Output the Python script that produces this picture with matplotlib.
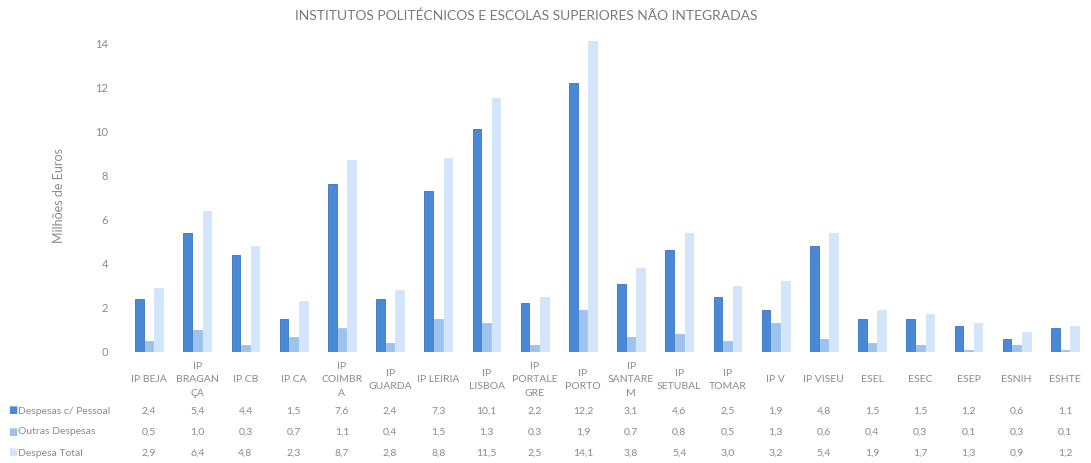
import numpy as np
import matplotlib.pyplot as plt
from matplotlib.transforms import blended_transform_factory

categorias = ["IP BEJA", "IP\nBRAGAN\nÇA", "IP CB", "IP CA", "IP\nCOIMBR\nA", "IP\nGUARDA",
              "IP LEIRIA", "IP\nLISBOA", "IP\nPORTALE\nGRE", "IP\nPORTO", "IP\nSANTARE\nM",
              "IP\nSETUBAL", "IP\nTOMAR", "IP V", "IP VISEU", "ESEL", "ESEC", "ESEP",
              "ESNIH", "ESHTE"]
pessoal = [2.4, 5.4, 4.4, 1.5, 7.6, 2.4, 7.3, 10.1, 2.2, 12.2, 3.1, 4.6, 2.5, 1.9, 4.8,
           1.5, 1.5, 1.2, 0.6, 1.1]
outras = [0.5, 1.0, 0.3, 0.7, 1.1, 0.4, 1.5, 1.3, 0.3, 1.9, 0.7, 0.8, 0.5, 1.3, 0.6,
          0.4, 0.3, 0.1, 0.3, 0.1]
total = [2.9, 6.4, 4.8, 2.3, 8.7, 2.8, 8.8, 11.5, 2.5, 14.1, 3.8, 5.4, 3.0, 3.2, 5.4,
         1.9, 1.7, 1.3, 0.9, 1.2]
series = ["Despesas c/ Pessoal", "Outras Despesas", "Despesa Total"]
cores = ["#4a88d8", "#9cc3ee", "#d3e5fa"]
yticks = [0, 2, 4, 6, 8, 10, 12, 14]

plt.rcParams['font.family'] = ['Lato', 'DejaVu Sans']
cinza = "#8a8a8a"

fig = plt.figure(figsize=(10.91, 4.63), dpi=100)
ax = fig.add_axes([125 / 1091, 1 - 352 / 463, 964 / 1091, (352 - 38.6) / 463])

x = np.arange(len(categorias))
w = 0.18
dados = [pessoal, outras, total]
for i, (vals, cor) in enumerate(zip(dados, cores)):
    ec = "#3a74c0" if i == 0 else cor
    ax.bar(x + (i - 1) * 0.2, vals, w, color=cor, edgecolor=ec, linewidth=0.6)

ax.set_xlim(-0.5, len(categorias) - 0.5)
ax.set_ylim(0, 14.2)
ax.set_yticks(yticks)
ax.set_yticklabels([str(t) for t in yticks], color=cinza, fontsize=8)
ax.tick_params(axis='y', length=0, pad=12)
ax.set_xticks([])
for s in ax.spines.values():
    s.set_visible(False)

ax.set_ylabel("Milhões de Euros", color=cinza, fontsize=9, labelpad=22)
fig.text(0.482, 1 - 16 / 463, "INSTITUTOS POLITÉCNICOS E ESCOLAS SUPERIORES NÃO INTEGRADAS",
         ha='center', va='center', color="#7a7a7a", fontsize=10)

# categorias e tabela de dados
tr = blended_transform_factory(ax.transData, fig.transFigure)
for i, c in enumerate(categorias):
    ax.text(i, 1 - 380 / 463, c, transform=tr, ha='center', va='center',
            fontsize=7.5, color=cinza, linespacing=1.6)

linhas_y = [411, 432, 453]
for vals, nome, cor, yp in zip(dados, series, cores, linhas_y):
    yf = 1 - yp / 463
    fig.text(8 / 1091, yf, "■", color=cor, fontsize=7, ha='left', va='center')
    fig.text(18 / 1091, yf, nome, color=cinza, fontsize=7.5, ha='left', va='center')
    for i, v in enumerate(vals):
        ax.text(i, yf, f"{v:.1f}".replace(".", ","), transform=tr, ha='center',
                va='center', fontsize=7.5, color=cinza)

fig.savefig("out.png", dpi=100)
